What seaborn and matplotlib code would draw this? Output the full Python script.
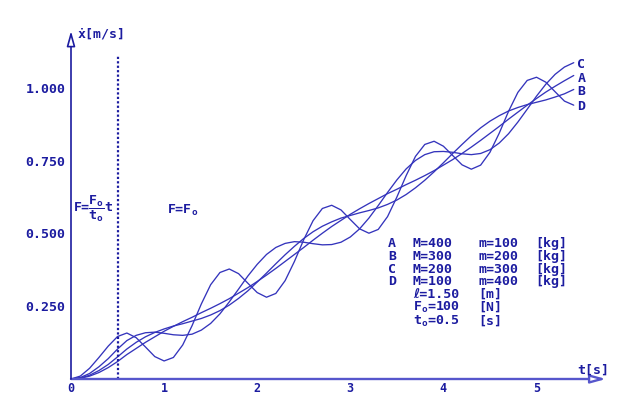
import numpy as np
import pandas as pd
import seaborn as sns
import matplotlib.pyplot as plt

# time axis [s] and cart velocity [m/s] for the four mass pairs
t_s = [0.0, 0.1, 0.2, 0.3, 0.4, 0.5, 0.6, 0.7, 0.8, 0.9,
       1.0, 1.1, 1.2, 1.3, 1.4, 1.5, 1.6, 1.7, 1.8, 1.9,
       2.0, 2.1, 2.2, 2.3, 2.4, 2.5, 2.6, 2.7, 2.8, 2.9,
       3.0, 3.1, 3.2, 3.3, 3.4, 3.5, 3.6, 3.7, 3.8, 3.9,
       4.0, 4.1, 4.2, 4.3, 4.4, 4.5, 4.6, 4.7, 4.8, 4.9,
       5.0, 5.1, 5.2, 5.3, 5.4]

vel_a = [0.0, 0.0025, 0.0099, 0.0222, 0.0392,
         0.060, 0.084, 0.105, 0.126, 0.145, 0.164, 0.181, 0.197, 0.212, 0.228,
         0.243, 0.259, 0.276, 0.295, 0.314, 0.335, 0.357, 0.380, 0.404, 0.428,
         0.452, 0.477, 0.501, 0.524, 0.545, 0.566, 0.585, 0.603, 0.620, 0.637,
         0.652, 0.668, 0.683, 0.699, 0.716, 0.735, 0.754, 0.775, 0.797, 0.820,
         0.844, 0.868, 0.893, 0.917, 0.941, 0.964, 0.986, 1.006, 1.025, 1.043]

vel_b = [0.0, 0.003, 0.013, 0.029, 0.050,
         0.076, 0.103, 0.126, 0.145, 0.160, 0.172, 0.182, 0.190, 0.199, 0.208,
         0.220, 0.235, 0.254, 0.277, 0.303, 0.333, 0.364, 0.396, 0.427, 0.456,
         0.483, 0.506, 0.525, 0.540, 0.553, 0.562, 0.571, 0.579, 0.588, 0.600,
         0.615, 0.634, 0.657, 0.683, 0.712, 0.743, 0.775, 0.806, 0.836, 0.863,
         0.886, 0.905, 0.921, 0.933, 0.943, 0.951, 0.959, 0.969, 0.980, 0.995]

vel_c = [0.0, 0.005, 0.019, 0.042, 0.070,
         0.103, 0.132, 0.150, 0.159, 0.161, 0.157, 0.152, 0.150, 0.154, 0.168,
         0.191, 0.224, 0.265, 0.309, 0.354, 0.394, 0.428, 0.452, 0.466, 0.472,
         0.470, 0.465, 0.461, 0.462, 0.470, 0.488, 0.516, 0.553, 0.596, 0.641,
         0.684, 0.722, 0.751, 0.771, 0.781, 0.782, 0.779, 0.774, 0.771, 0.775,
         0.788, 0.811, 0.843, 0.883, 0.927, 0.972, 1.013, 1.047, 1.072, 1.087]

vel_d = [0.0, 0.010, 0.037, 0.074, 0.113,
         0.146, 0.158, 0.142, 0.110, 0.077, 0.062, 0.074, 0.117, 0.183, 0.258,
         0.324, 0.366, 0.378, 0.362, 0.329, 0.297, 0.281, 0.294, 0.338, 0.404,
         0.479, 0.544, 0.586, 0.597, 0.581, 0.548, 0.516, 0.501, 0.514, 0.558,
         0.625, 0.699, 0.765, 0.806, 0.817, 0.800, 0.768, 0.736, 0.721, 0.735,
         0.779, 0.845, 0.920, 0.985, 1.026, 1.037, 1.020, 0.987, 0.955, 0.941]

curve_names = ['A', 'B', 'C', 'D']
end_label_y = [1.034, 0.988, 1.080, 0.937]
big_m = [400, 300, 200, 100]
small_m = [100, 200, 300, 400]
y_ticks = [0.25, 0.5, 0.75, 1.0]
x_ticks = [0, 1, 2, 3, 4, 5]

df = pd.DataFrame({'t': t_s, 'A': vel_a, 'B': vel_b, 'C': vel_c, 'D': vel_d})
df = df.melt(id_vars='t', var_name='curve', value_name='v')

txt_col = '#1c1ca0'
line_col = '#3434bc'
axis_col = '#5656cc'

sns.set_style('white')
plt.rcParams['font.family'] = ['DejaVu Sans Mono', 'DejaVu Sans']
plt.rcParams['font.weight'] = 'bold'
plt.rcParams['mathtext.fontset'] = 'custom'
plt.rcParams['mathtext.rm'] = 'DejaVu Sans Mono:bold'
plt.rcParams['mathtext.it'] = 'DejaVu Sans Mono:bold'
plt.rcParams['mathtext.bf'] = 'DejaVu Sans Mono:bold'

fs = 9.5
fig = plt.figure(figsize=(6.27, 3.94), dpi=100)
ax = fig.add_axes([71 / 627, 15 / 394, 535 / 627, 348 / 394])
xmax = 535 / 93.1
ymax = 348 / 291

sns.lineplot(data=df, x='t', y='v', hue='curve', palette=[line_col] * 4,
             estimator=None, linewidth=0.95, legend=False, ax=ax)

ax.set_xlim(0, xmax)
ax.set_ylim(0, ymax)
for s in ax.spines.values():
    s.set_visible(False)

# axes with open arrow heads
arrow = dict(arrowstyle='-|>,head_length=0.9,head_width=0.25', ec=axis_col,
             fc='white', lw=1.7, shrinkA=0, shrinkB=0)
ax.annotate('', xy=(xmax, 0), xytext=(0, 0), arrowprops=arrow, annotation_clip=False)
arrow_y = dict(arrow, lw=1.2, ec=txt_col)
ax.annotate('', xy=(0, ymax), xytext=(0, 0), arrowprops=arrow_y, annotation_clip=False)

ax.set_xticks(x_ticks)
ax.set_xticklabels([str(v) for v in x_ticks])
ax.set_yticks(y_ticks)
ax.set_yticklabels(['%.3f' % v for v in y_ticks])
ax.tick_params(direction='inout', length=6, width=1, color=txt_col,
               labelcolor=txt_col, labelsize=fs, pad=1)
ax.tick_params(axis='x', labelsize=8.5, pad=0, length=5)
ax.set_xlabel('')
ax.set_ylabel('')

# end of ramp t0
ax.plot([0.5, 0.5], [0, 1.11], ls=(0, (1, 1)), lw=1.6, color=txt_col)

ax.text(0.075, 1.187, 'ẋ[m/s]', color=txt_col, fontsize=fs, va='center', clip_on=False)
ax.text(5.435, 0.032, 't[s]', color=txt_col, fontsize=fs, va='center', clip_on=False)

for name, yy in zip(curve_names, end_label_y):
    ax.text(5.44, yy, name, color=txt_col, fontsize=fs, va='center')

ax.text(0.02, 0.585, r'F=$\dfrac{F_o}{t_o}$t', color=txt_col, fontsize=fs, va='center')
ax.text(1.03, 0.567, r'F=F$_o$', color=txt_col, fontsize=fs, va='baseline')

rows_y = [0.453, 0.409, 0.365, 0.323]
for name, M, m, yy in zip(curve_names, big_m, small_m, rows_y):
    ax.text(3.405, yy, name, color=txt_col, fontsize=fs, va='baseline')
    ax.text(3.673, yy, 'M=%d' % M, color=txt_col, fontsize=fs, va='baseline')
    ax.text(4.372, yy, 'm=%d' % m, color=txt_col, fontsize=fs, va='baseline')
    ax.text(4.984, yy, '[kg]', color=txt_col, fontsize=fs, va='baseline')

ax.text(3.673, 0.280, 'ℓ=1.50', color=txt_col, fontsize=fs, va='baseline')
ax.text(4.372, 0.280, '[m]', color=txt_col, fontsize=fs, va='baseline')
ax.text(3.673, 0.235, r'F$_o$=100', color=txt_col, fontsize=fs, va='baseline')
ax.text(4.372, 0.235, '[N]', color=txt_col, fontsize=fs, va='baseline')
ax.text(3.673, 0.186, r't$_o$=0.5', color=txt_col, fontsize=fs, va='baseline')
ax.text(4.372, 0.186, '[s]', color=txt_col, fontsize=fs, va='baseline')

fig.savefig('out.png', dpi=100, facecolor='white')
